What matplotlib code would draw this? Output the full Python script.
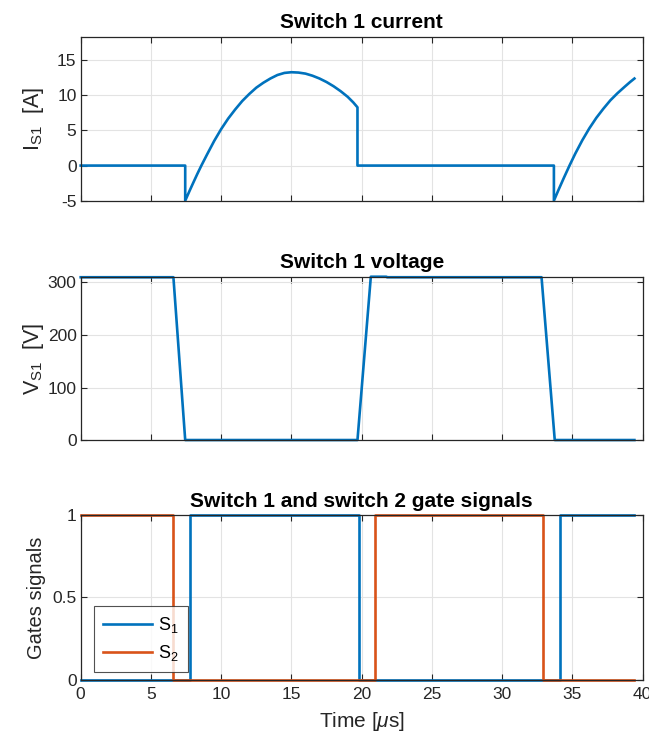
import numpy as np
import matplotlib
matplotlib.use("Agg")
import matplotlib.pyplot as plt

plt.rcParams['font.family'] = ['Liberation Sans', 'DejaVu Sans']
plt.rcParams['mathtext.fontset'] = 'custom'
plt.rcParams['mathtext.rm'] = 'Liberation Sans'
plt.rcParams['mathtext.it'] = 'Liberation Sans:italic'

BLUE = "#0072BD"
ORANGE = "#D95319"

# switch 1 current, time in us
t_cur = [0, 7.44, 7.44, 7.75, 8.0, 8.3, 8.59, 9.0, 9.5, 10.0, 10.5, 11.0, 11.5, 12.0, 12.5, 13.0,
         13.5, 14.0, 14.5, 15.0, 15.5, 16.0, 16.5, 17.0, 17.5, 18.0, 18.5, 19.0, 19.4, 19.7,
         19.7, 33.68, 33.68, 34.0, 34.4, 34.79, 35.2, 35.7, 36.2, 36.7, 37.2, 37.7, 38.2, 38.7,
         39.1, 39.41]
i_cur = [0, 0, -5.0, -3.6, -2.5, -1.2, 0, 1.6, 3.5, 5.2, 6.7, 8.0, 9.2, 10.2, 11.1, 11.8,
         12.4, 12.9, 13.2, 13.3, 13.25, 13.1, 12.8, 12.4, 11.9, 11.3, 10.6, 9.8, 9.0, 8.3,
         0, 0, -5.0, -3.5, -1.7, 0, 1.7, 3.6, 5.3, 6.8, 8.1, 9.3, 10.3, 11.2,
         11.9, 12.4]

# switch 1 voltage
t_volt = [0, 6.6, 7.44, 19.7, 20.65, 21.76, 21.8, 32.8, 33.74, 39.41]
v_volt = [310, 310, 0, 0, 311, 311, 310, 310, 0, 0]

# gate signals
t_s1 = [0, 7.79, 7.79, 19.79, 19.79, 34.1, 34.1, 39.41]
g_s1 = [0, 0, 1, 1, 0, 0, 1, 1]
t_s2 = [0, 6.56, 6.56, 20.94, 20.94, 32.88, 32.88, 39.41]
g_s2 = [1, 1, 0, 0, 1, 1, 0, 0]

fig = plt.figure(figsize=(6.49, 7.34), dpi=100)
left, width = 0.1243, 0.866
ax1 = fig.add_axes([left, 0.7266, width, 0.2234])
ax2 = fig.add_axes([left, 0.4005, width, 0.2225])
ax3 = fig.add_axes([left, 0.0736, width, 0.2248])

for ax in (ax1, ax2, ax3):
    ax.set_xlim(0, 40)
    ax.set_xticks(np.arange(0, 41, 5))
    ax.grid(True, color="#e3e3e3", linewidth=0.8)
    ax.set_axisbelow(True)
    ax.tick_params(direction="in", top=True, right=True, labelsize=12.5,
                   colors="#262626", length=4, width=0.8, pad=3)
    ax.tick_params(axis="x", pad=5)
    for s in ax.spines.values():
        s.set_color("#262626")
        s.set_linewidth(0.9)

lw = 1.9
ax1.plot(t_cur, i_cur, color=BLUE, linewidth=lw, clip_on=False)
ax1.set_ylim(-5, 18.36)
ax1.set_yticks([-5, 0, 5, 10, 15])
ax1.set_yticklabels(["-5", "0", "5", "10", "15"])
ax1.set_xticklabels([])
ax1.set_title("Switch 1 current", fontsize=15, fontweight="bold", pad=6)
ax1.set_ylabel(r"I$_{\mathregular{S1}}$  [A]", fontsize=15.5, color="#262626")

ax2.plot(t_volt, v_volt, color=BLUE, linewidth=lw, clip_on=False)
ax2.set_ylim(0, 311)
ax2.set_yticks([0, 100, 200, 300])
ax2.set_xticklabels([])
ax2.set_title("Switch 1 voltage", fontsize=15, fontweight="bold", pad=6)
ax2.set_ylabel(r"V$_{\mathregular{S1}}$  [V]", fontsize=15.5, color="#262626")

ax3.plot(t_s1, g_s1, color=BLUE, linewidth=lw, clip_on=False, label=r"S$_{\mathregular{1}}$")
ax3.plot(t_s2, g_s2, color=ORANGE, linewidth=lw, clip_on=False, label=r"S$_{\mathregular{2}}$")
ax3.set_ylim(0, 1)
ax3.set_yticks([0, 0.5, 1])
ax3.set_yticklabels(["0", "0.5", "1"])
ax3.set_title("Switch 1 and switch 2 gate signals", fontsize=15, fontweight="bold", pad=6)
ax3.set_ylabel("Gates signals", fontsize=14.5, color="#262626")
ax3.set_xlabel(r"Time [$\mu$s]", fontsize=15, color="#262626", labelpad=6)
leg = ax3.legend(loc="lower left", bbox_to_anchor=(0.024, 0.048), fontsize=13,
                 fancybox=False, edgecolor="#262626", handlelength=2.7,
                 borderpad=0.5, labelspacing=0.45, handletextpad=0.35,
                 borderaxespad=0)
leg.get_frame().set_linewidth(0.8)

for ax in (ax1, ax2, ax3):
    ax.yaxis.set_label_coords(-0.062, 0.5)

fig.savefig("out.png", dpi=100)
